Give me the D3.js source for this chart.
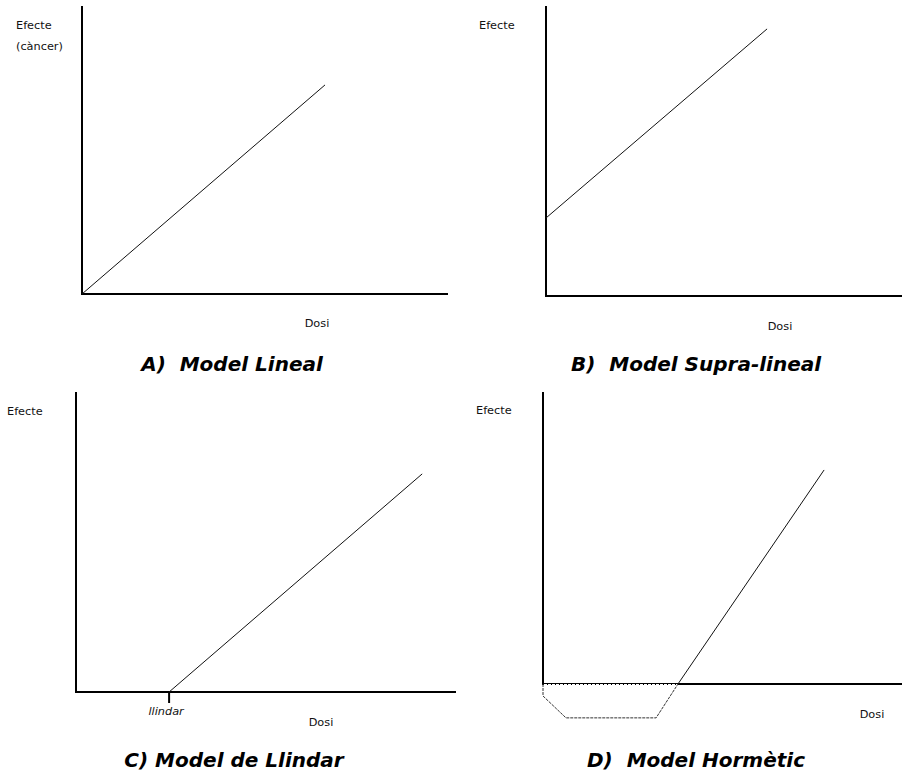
<!DOCTYPE html>
<html><head><meta charset="utf-8">
<script src="https://cdn.jsdelivr.net/npm/d3@7"></script>
<style>
body{margin:0;background:#fff;}
svg{display:block;}
.lbl{font-family:"DejaVu Sans",Verdana,sans-serif;font-size:11.3px;fill:#111;}
.ttl{font-family:"DejaVu Sans",Verdana,sans-serif;font-size:20px;font-weight:bold;font-style:italic;fill:#000;white-space:pre;}
</style></head>
<body>
<script>
// Panel titles and labels
const titles = ["A)  Model Lineal", "B)  Model Supra-lineal", "C) Model de Llindar", "D)  Model Hormètic"];
const yLabels = [["Efecte", "(càncer)"], ["Efecte"], ["Efecte"], ["Efecte"]];
const xLabel = "Dosi";
const thresholdLabel = "llindar";

// Curves (dose, effect) in arbitrary units 0..10
const linealLine = [[0, 0], [6.64, 7.26]];
const supraLine = [[0, 2.69], [6.21, 9.21]];
const llindarLine = [[2.45, 0], [9.11, 7.27]];
const llindarTick = 2.45;
const hormeticDashed = [[0, 0], [0, -0.41], [0.64, -1.16], [3.15, -1.16], [3.76, 0]];
const hormeticAxisDashed = [[0, 0], [3.76, 0]];
const hormeticSolid = [[3.76, 0], [7.83, 7.33]];

const W = 902, H = 773;
const svg = d3.select("body").append("svg").attr("width", W).attr("height", H);

// panel layout: axis origin and extents
const panels = [
  {x0: 82, x1: 448, y0: 294, y1: 6, title: [232, 371], ylab: [16, 29], xlab: [317, 327]},
  {x0: 546, x1: 902, y0: 296, y1: 6, title: [696, 371], ylab: [479, 29], xlab: [780, 330]},
  {x0: 76, x1: 456, y0: 692, y1: 392, title: [234, 767], ylab: [7, 415], xlab: [321, 726]},
  {x0: 543, x1: 902, y0: 684, y1: 392, title: [696, 767], ylab: [476, 414], xlab: [872, 718]}
];

panels.forEach((p, i) => {
  p.xs = d3.scaleLinear().domain([0, 10]).range([p.x0, p.x1]);
  p.ys = d3.scaleLinear().domain([0, 10]).range([p.y0, p.y1]);
  const g = svg.append("g");
  p.g = g;
  // axes
  g.append("line").attr("x1", p.x0).attr("x2", p.x0).attr("y1", p.y1).attr("y2", p.y0 + 1)
    .attr("stroke", "#000").attr("stroke-width", 2);
  g.append("line").attr("x1", p.x0 - 1).attr("x2", p.x1).attr("y1", p.y0).attr("y2", p.y0)
    .attr("stroke", "#000").attr("stroke-width", 2);
  // y labels
  yLabels[i].forEach((t, k) => {
    g.append("text").attr("class", "lbl").attr("x", p.ylab[0]).attr("y", p.ylab[1] + k * 21).text(t);
  });
  g.append("text").attr("class", "lbl").attr("x", p.xlab[0]).attr("y", p.xlab[1])
    .attr("text-anchor", "middle").text(xLabel);
  g.append("text").attr("class", "ttl").attr("x", p.title[0]).attr("y", p.title[1])
    .attr("text-anchor", "middle").text(titles[i]);
  p.line = d3.line().x(d => p.xs(d[0])).y(d => p.ys(d[1]));
});

function draw(p, data, dashed) {
  p.g.append("path").attr("d", p.line(data)).attr("fill", "none")
    .attr("stroke", dashed ? "#333" : "#111").attr("stroke-width", 1)
    .attr("stroke-dasharray", dashed ? "3,1" : null);
}

draw(panels[0], linealLine, false);
draw(panels[1], supraLine, false);
draw(panels[2], llindarLine, false);
// threshold tick
const pc = panels[2];
pc.g.append("line").attr("x1", pc.xs(llindarTick)).attr("x2", pc.xs(llindarTick))
  .attr("y1", pc.y0).attr("y2", pc.y0 + 11).attr("stroke", "#000").attr("stroke-width", 2);
pc.g.append("text").attr("class", "lbl").attr("x", pc.xs(llindarTick) - 3).attr("y", pc.y0 + 23)
  .attr("text-anchor", "middle").attr("font-style", "italic").text(thresholdLabel);

const pd = panels[3];
// dashed overlay on axis
pd.g.append("path").attr("d", pd.line(hormeticAxisDashed)).attr("fill", "none")
  .attr("stroke", "#fff").attr("stroke-width", 1).attr("stroke-dasharray", "3,1")
  .attr("stroke-dashoffset", 3).attr("transform", "translate(0,0.5)");
draw(pd, hormeticDashed, true);
draw(pd, hormeticSolid, false);
</script>
</body></html>
